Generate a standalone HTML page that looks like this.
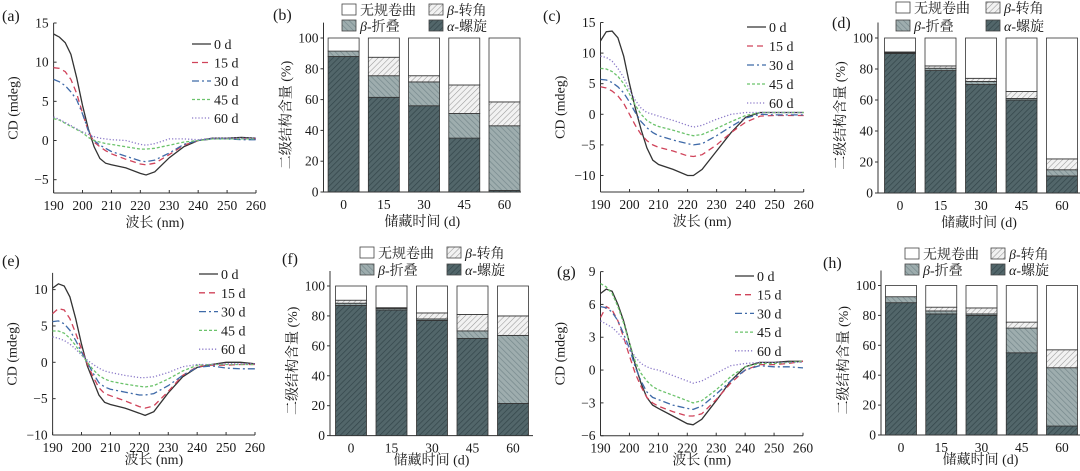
<!DOCTYPE html>
<html><head><meta charset="utf-8">
<style>
html,body{margin:0;padding:0;background:#fff;}
svg{display:block;}
text{font-family:"Liberation Serif","Noto Serif CJK SC","Noto Sans CJK SC",serif;fill:#1a1a1a;}
</style></head>
<body>
<svg id="fig" width="1080" height="471" viewBox="0 0 1080 471" xmlns="http://www.w3.org/2000/svg">
<defs>
<pattern id="pAlpha" patternUnits="userSpaceOnUse" width="4" height="4" patternTransform="rotate(45)">
<rect width="4" height="4" fill="#52666a"/><line x1="0" y1="0" x2="0" y2="4" stroke="#33454a" stroke-width="1.4"/></pattern>
<pattern id="pSheet" patternUnits="userSpaceOnUse" width="4" height="4" patternTransform="rotate(-45)">
<rect width="4" height="4" fill="#9eadae"/><line x1="0" y1="0" x2="0" y2="4" stroke="#73868a" stroke-width="1.3"/></pattern>
<pattern id="pTurn" patternUnits="userSpaceOnUse" width="4" height="4" patternTransform="rotate(45)">
<rect width="4" height="4" fill="#f2f2f2"/><line x1="0" y1="0" x2="0" y2="4" stroke="#999" stroke-width="1.1"/></pattern>
</defs>
</svg>
<script>
const wavelengths = [190,192,194,196,198,200,202,204,206,208,210,215,220,222,225,230,235,240,245,250,255,260];
const seriesNames = ["0 d","15 d","30 d","45 d","60 d"];
const days = ["0","15","30","45","60"];
const cdA0 = [13.6,13.2,12.5,11,8,4.5,1.5,-0.8,-2.3,-2.9,-3.1,-3.5,-4.2,-4.4,-4,-2.2,-0.8,0,0.3,0.3,0.4,0.3];
const cdA15 = [9.3,9.2,8.8,7.8,6,3.5,1.2,-0.2,-0.8,-1.3,-1.7,-2.4,-3,-3.1,-2.9,-1.8,-0.6,0,0.2,0.2,0.2,0.2];
const cdA30 = [7.8,7.5,7,6.2,5.2,3.4,1.3,0,-0.6,-1,-1.4,-2,-2.6,-2.7,-2.5,-1.6,-0.5,0,0.2,0.2,0.1,0.1];
const cdA45 = [2.8,2.6,2.2,1.8,1.4,1,0.4,0,-0.2,-0.4,-0.5,-0.8,-1.1,-1.1,-1,-0.6,-0.2,0,0.2,0.2,0.2,0.2];
const cdA60 = [3,2.7,2.3,1.9,1.5,1.1,0.8,0.5,0.3,0.2,0.1,0,-0.5,-0.6,-0.4,0.2,0.2,0.1,0.3,0.3,0.3,0.3];
const ticksA = [-5,0,5,10,15];
const cdC0 = [12,13.5,13.6,12.5,9.5,5,1,-2.5,-5.5,-7.5,-8.2,-9,-10,-10,-9,-6,-3,-0.5,0.3,0.3,0.3,0.3];
const cdC15 = [4.5,4.3,3.8,3,1.8,0,-1.8,-3.3,-4.3,-5,-5.4,-6,-6.8,-6.9,-6.6,-5,-3,-1.3,-0.3,-0.2,-0.2,-0.2];
const cdC30 = [5.7,5.6,5.2,4.5,3.5,2,0.3,-1.2,-2.2,-3,-3.5,-4.2,-4.8,-5,-4.8,-3.5,-2,-0.6,0,-0.1,-0.1,-0.1];
const cdC45 = [7.5,7.4,7,6.2,5,3.3,1.5,0,-1,-1.6,-2,-2.6,-3.3,-3.5,-3.3,-2.3,-1.2,-0.2,0.3,0.3,0.3,0.3];
const cdC60 = [9.5,9.3,8.7,7.5,6,4,2.3,1,0.3,0,-0.3,-1,-1.8,-2.1,-1.8,-0.8,0,0.3,0.3,0.3,0.3,0.3];
const ticksC = [-10,-5,0,5,10,15];
const cdE0 = [10.2,10.8,10.5,9,6,2.5,-0.5,-2.5,-4.5,-5.5,-5.8,-6.3,-7,-7.3,-6.8,-4.2,-2,-0.7,-0.3,0,0,-0.2];
const cdE15 = [6.7,7.4,7.2,6,4,1.8,-0.2,-2,-3.5,-4.3,-4.6,-5.3,-6.1,-6.3,-6,-4,-1.8,-0.6,-0.4,-0.4,-0.3,-0.3];
const cdE30 = [5.6,5.7,5.3,4.4,3,1.4,0,-1.5,-2.8,-3.4,-3.7,-4.1,-4.5,-4.5,-4.3,-3.2,-1.8,-0.7,-0.5,-0.8,-0.9,-0.9];
const cdE45 = [4.3,4.3,4,3.3,2.3,1.1,0,-1,-1.8,-2.3,-2.6,-3,-3.3,-3.4,-3.2,-2.3,-1.2,-0.4,-0.3,-0.3,-0.3,-0.3];
const cdE60 = [3.5,3.3,3,2.5,1.8,1,0.3,-0.3,-0.8,-1.2,-1.4,-1.8,-2.1,-2.1,-2,-1.4,-0.6,-0.3,-0.3,-0.2,-0.2,-0.2];
const ticksE = [-10,-5,0,5,10];
const cdG0 = [7,7.4,7.2,6,4.5,2.5,0.5,-1.2,-2.5,-3.2,-3.5,-4.2,-4.9,-5,-4.5,-2.8,-1,0.3,0.7,0.7,0.8,0.8];
const cdG15 = [4.8,5.8,5.5,4.5,3,1.3,-0.3,-1.5,-2.5,-3,-3.3,-3.8,-4.2,-4.2,-4,-2.7,-1.2,0,0.5,0.5,0.6,0.8];
const cdG30 = [5.8,5.7,5.3,4.5,3.3,2,0.3,-1,-2,-2.5,-2.7,-3.2,-3.5,-3.6,-3.3,-2.2,-1,0,0.4,0.3,0.3,0.2];
const cdG45 = [7.9,7.6,7,5.8,4.3,2.5,0.8,-0.3,-1,-1.5,-1.8,-2.3,-2.8,-3,-2.8,-1.8,-0.6,0.3,0.6,0.6,0.7,0.8];
const cdG60 = [4.5,4.2,3.9,3.4,2.8,2,1.2,0.6,0.3,0.1,0,-0.5,-1,-1.2,-1,-0.3,0.4,0.6,0.7,0.7,0.7,0.7];
const ticksG = [-6,-3,0,3,6,9];
const xTicks = [190,200,210,220,230,240,250,260];
const alphaB = [88,61.5,56,35,1];   const sheetB = [3.5,14,15.5,16,42];  const turnB = [0,12,4,18.5,15.5];
const alphaD = [90,79,70,60,11];    const sheetD = [0.5,1.5,2,1,4];      const turnD = [0.5,1.5,2,4.5,7];
const alphaF = [87,84,77,65,21.5];  const sheetF = [1.5,1,1,5,45.5];     const turnF = [2,0.5,4,11,13];
const alphaH = [88.5,81,80,55,6];   const sheetH = [4,2,1,16.5,39];      const turnH = [0,2.5,4,4,12];
const barTicks = [0,20,40,60,80,100];

const svg = document.getElementById('fig');
const NS = 'http://www.w3.org/2000/svg';
function mk(tag, attrs, parent){
  const e = document.createElementNS(NS, tag);
  for (const k in attrs) e.setAttribute(k, attrs[k]);
  (parent||svg).appendChild(e);
  return e;
}
function txt(x,y,s,size,anchor,parent){
  const t = mk('text',{x:x,y:y,'font-size':size,'text-anchor':anchor||'start'},parent);
  t.textContent = s;
  return t;
}
const lineStyles = [
  {c:'#333',d:''},{c:'#d0435a',d:'6,4'},{c:'#3f6aa8',d:'7,3,2,3'},{c:'#6cc36c',d:'3,2'},{c:'#8a78c8',d:'1.2,2'}
];

function linePanel(name, label, lx, ly, L, R, T, B, ymin, ymax, yTop, ticks, data, legX, legY0, legDy, titleOff){
  const g = mk('g',{});
  
  
  const sx = v => L + (v-190)/(260-190)*(R-L);
  const sy = v => B - (v-ymin)/(ymax-ymin)*(B-T);
  const pl = txt(lx, ly, label, 16, 'start', g);
  
  
  const axTop = sy(yTop);
  mk('line',{x1:L,y1:axTop,x2:L,y2:B,stroke:'#333','stroke-width':1},g);
  mk('line',{x1:L,y1:B,x2:R,y2:B,stroke:'#333','stroke-width':1},g);
  ticks.forEach(v=>{
    mk('line',{x1:L,y1:sy(v),x2:L+3,y2:sy(v),stroke:'#333'},g);
    const t = txt(L-5, sy(v)+4.5, v<0?'\u2212'+(-v):String(v), 13.5, 'end', g);
    
    
  });
  xTicks.forEach(v=>{
    mk('line',{x1:sx(v),y1:B,x2:sx(v),y2:B-3,stroke:'#333'},g);
    const t = txt(sx(v), B+17, String(v), 13.5, 'middle', g);
    
    
  });
  const xt = txt((L+R)/2, B+titleOff, '波长 (nm)', 14, 'middle', g);
  
  
  const cy = (axTop+B)/2;
  const yt = txt(L-36, cy, 'CD (mdeg)', 14, 'middle', g);
  yt.setAttribute('transform', 'rotate(-90 '+(L-36)+' '+cy+')');
  
  
  data.forEach((arr,i)=>{
    const pts = arr.map((v,j)=>sx(wavelengths[j]).toFixed(1)+','+sy(v).toFixed(1)).join(' ');
    const p = mk('polyline',{points:pts,fill:'none',stroke:lineStyles[i].c,'stroke-width':1.3,'stroke-dasharray':lineStyles[i].d},g);
    
    
    const ly2 = legY0 + i*legDy;
    const le = mk('line',{x1:legX,y1:ly2,x2:legX+19,y2:ly2,stroke:lineStyles[i].c,'stroke-width':1.3,'stroke-dasharray':lineStyles[i].d},g);
    
    
    const lt = txt(legX+22, ly2+5, seriesNames[i], 14, 'start', g);
    
    
  });
}

function legText(x,y,greek,rest,g){
  const t = mk('text',{x:x,y:y,'font-size':14},g);
  if (greek){
    const s = mk('tspan',{'font-style':'italic'},t); s.textContent = greek;
    const r = mk('tspan',{},t); r.textContent = rest;
  } else t.textContent = rest;
  return t;
}

function barPanel(name, label, lx, ly, L, R, x0, x60, T, B, alpha, sheet, turn, legX1, legX2, legY1, legY2, titleOff){
  const g = mk('g',{});
  
  
  const sy = v => B - v/100*(B-T);
  const pl = txt(lx, ly, label, 16, 'start', g);
  
  
  mk('line',{x1:L,y1:sy(110),x2:L,y2:B,stroke:'#333'},g);
  mk('line',{x1:L,y1:B,x2:R,y2:B,stroke:'#333'},g);
  barTicks.forEach(v=>{
    mk('line',{x1:L,y1:sy(v),x2:L-3,y2:sy(v),stroke:'#333'},g);
    const t = txt(L-5, sy(v)+4.5, String(v), 13.5, 'end', g);
    
    
  });
  const bw = 31, step = (x60-x0)/4;
  days.forEach((d,i)=>{
    const cx = x0 + i*step;
    const t = txt(cx, B+17, d, 13.5, 'middle', g);
    
    
    const segs = [[alpha[i],'url(#pAlpha)','alpha'],[sheet[i],'url(#pSheet)','sheet'],[turn[i],'url(#pTurn)','turn']];
    let base = 0;
    segs.forEach(s=>{
      if (s[0] > 0){
        const r = mk('rect',{x:cx-bw/2,y:sy(base+s[0]),width:bw,height:sy(base)-sy(base+s[0]),fill:s[1],stroke:'#333','stroke-width':0.8},g);
        
        
      }
      base += s[0];
    });
    const rc = mk('rect',{x:cx-bw/2,y:sy(100),width:bw,height:sy(base)-sy(100),fill:'#fff',stroke:'#333','stroke-width':0.8},g);
    
    
  });
  const xt = txt((L+R)/2, B+titleOff, '储藏时间 (d)', 14, 'middle', g);
  
  
  const cy = (sy(100)+B)/2;
  const yt = txt(L-33, cy, '二级结构含量 (%)', 14, 'middle', g);
  yt.setAttribute('transform', 'rotate(-90 '+(L-33)+' '+cy+')');
  
  
  const leg = [[legX1,legY1,'#fff','','无规卷曲'],[legX2,legY1,'url(#pTurn)','β','-转角'],[legX1,legY2,'url(#pSheet)','β','-折叠'],[legX2,legY2,'url(#pAlpha)','α','-螺旋']];
  leg.forEach(l=>{
    const b = mk('rect',{x:l[0],y:l[1]-9,width:14,height:11,fill:l[2],stroke:'#444','stroke-width':0.8},g);
    
    
    const t = legText(l[0]+18, l[1]+2, l[3], l[4], g);
    
    
  });
}

linePanel('cd-chart-a','(a)',2,21,53.6,256,23,193,-6.7,15,15,ticksA,[cdA0,cdA15,cdA30,cdA45,cdA60],192,44,18.5,34);
barPanel('bar-chart-b','(b)',273,20,323.5,521,343.6,504.5,38,192,alphaB,sheetB,turnB,342,429,13,29,34);
linePanel('cd-chart-c','(c)',543,21,600.5,803.7,22.5,192,-12.7,15,15,ticksC,[cdC0,cdC15,cdC30,cdC45,cdC60],747,27,19,34);
barPanel('bar-chart-d','(d)',832,28,878,1080,900,1062,38,193,alphaD,sheetD,turnD,896,986,11,29,34);
linePanel('cd-chart-e','(e)',2,266,52.6,255,289.6,435,-10,10,12.3,ticksE,[cdE0,cdE15,cdE30,cdE45,cdE60],199,274,18.8,29);
barPanel('bar-chart-f','(f)',282,264,330,533,351,513,286,435.6,alphaF,sheetF,turnF,360,447,256,273,29);
linePanel('cd-chart-g','(g)',557,277,600.5,803,271.6,435.7,-6,9,9,ticksG,[cdG0,cdG15,cdG30,cdG45,cdG60],735,276,18.7,29);
barPanel('bar-chart-h','(h)',823,268,881,1080,901,1062,285.5,435,alphaH,sheetH,turnH,905,991,257,273,29);
</script>
</body></html>
